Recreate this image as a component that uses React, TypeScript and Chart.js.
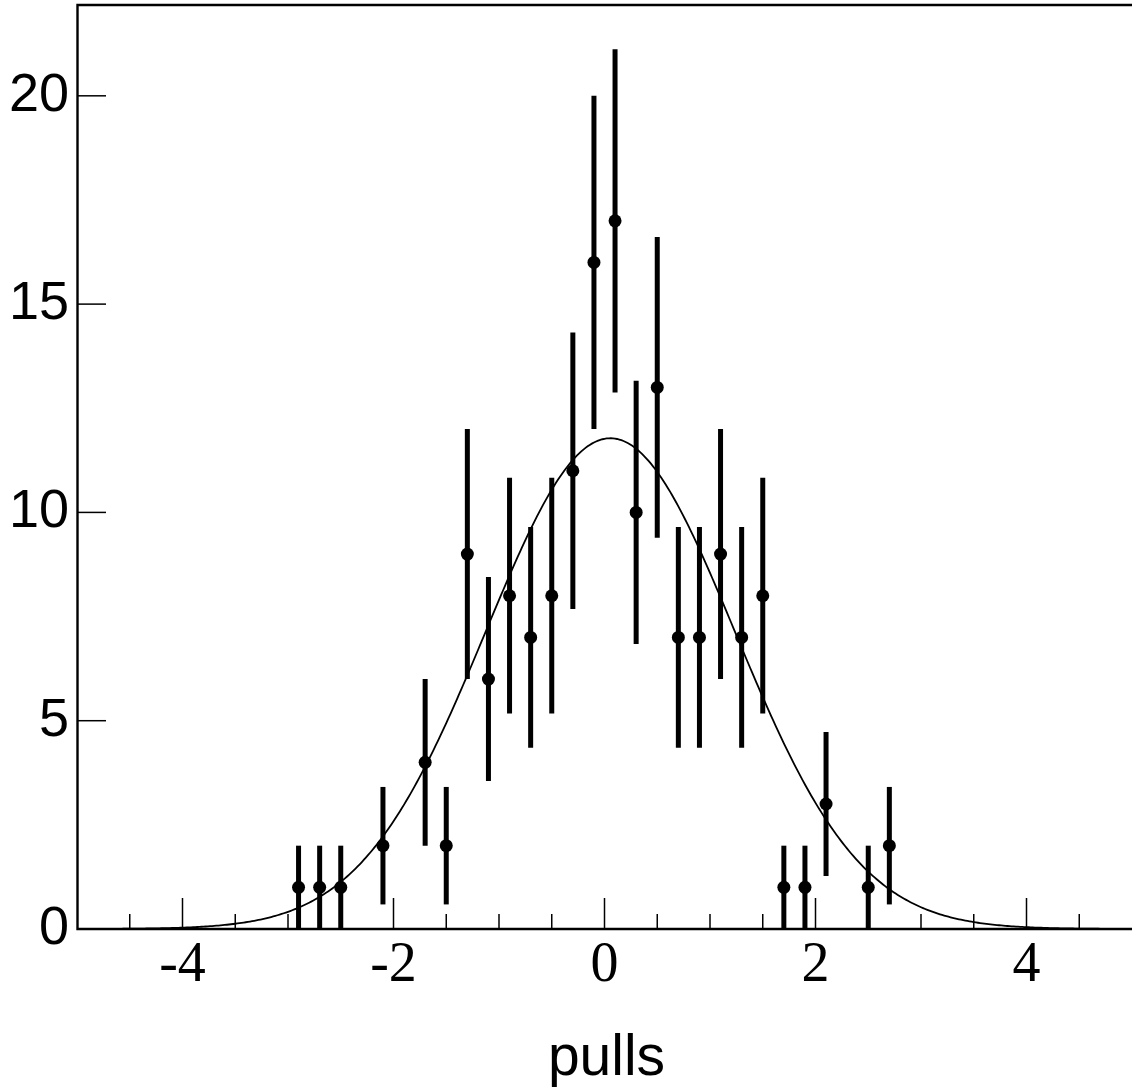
import React, { useEffect, useRef } from "react";
import { Chart, registerables } from "chart.js";

Chart.register(...registerables);

// ---- data ----
const binCenters = [
  -2.9, -2.7, -2.5, -2.1, -1.7, -1.5, -1.3, -1.1, -0.9, -0.7, -0.5, -0.3, -0.1,
  0.1, 0.3, 0.5, 0.7, 0.9, 1.1, 1.3, 1.5, 1.7, 1.9, 2.1, 2.5, 2.7,
];
const counts = [
  1, 1, 1, 2, 4, 2, 9, 6, 8, 7, 8, 11, 16, 17, 10, 13, 7, 7, 9, 7, 8, 1, 1, 3, 1, 2,
];
const errors = [
  1, 1, 1, 1.41, 2, 1.41, 3, 2.45, 2.83, 2.65, 2.83, 3.32, 4, 4.12, 3.16, 3.61,
  2.65, 2.65, 3, 2.65, 2.83, 1, 1, 1.73, 1, 1.41,
];

// Gaussian fit parameters
const fitAmplitude = 11.78;
const fitMean = 0.055;
const fitSigma = 1.18;

const xMajorTicks = [-4, -2, 0, 2, 4];
const xMinorTicks = [-4.5, -3.5, -3, -2.5, -1.5, -1, -0.5, 0.5, 1, 1.5, 2.5, 3, 3.5, 4.5];
const yMajorTicks = [0, 5, 10, 15, 20];
const xTickLabels = ["-4", "-2", "0", "2", "4"];
const yTickLabels = ["0", "5", "10", "15", "20"];
const xMin = -5;
const xMax = 5;
const yMin = 0;
const yMax = 22.18;
const xTitle = "pulls";

function fitCurve() {
  const pts: { x: number; y: number }[] = [];
  const n = 500;
  for (let i = 0; i <= n; i++) {
    const xv = xMin + ((xMax - xMin) * i) / n;
    const z = (xv - fitMean) / fitSigma;
    pts.push({ x: xv, y: fitAmplitude * Math.exp(-0.5 * z * z) });
  }
  return pts;
}

const rootStyle = {
  id: "rootStyle",
  beforeDatasetsDraw(chart: any) {
    const { ctx, scales } = chart;
    const x = scales.x;
    const y = scales.y;
    ctx.save();
    ctx.strokeStyle = "#000";
    ctx.lineWidth = 5;
    ctx.lineCap = "butt";
    binCenters.forEach((c, i) => {
      const px = x.getPixelForValue(c);
      ctx.beginPath();
      ctx.moveTo(px, y.getPixelForValue(Math.max(yMin, counts[i] - errors[i])));
      ctx.lineTo(px, y.getPixelForValue(counts[i] + errors[i]));
      ctx.stroke();
    });
    ctx.restore();
  },
  afterDraw(chart: any) {
    const { ctx, scales, chartArea } = chart;
    const x = scales.x;
    const y = scales.y;
    const { left, right, top, bottom } = chartArea;
    ctx.save();
    ctx.strokeStyle = "#000";
    ctx.fillStyle = "#000";
    // frame
    ctx.lineWidth = 2.4;
    ctx.beginPath();
    ctx.moveTo(right, top);
    ctx.lineTo(left + 0.5, top);
    ctx.lineTo(left + 0.5, bottom);
    ctx.lineTo(right, bottom);
    ctx.stroke();

    // y ticks (inward)
    ctx.lineWidth = 1.5;
    yMajorTicks.forEach((v) => {
      const py = y.getPixelForValue(v);
      ctx.beginPath();
      ctx.moveTo(left, py);
      ctx.lineTo(left + 29, py);
      ctx.stroke();
    });
    // x ticks (inward)
    xMajorTicks.forEach((v) => {
      const px = x.getPixelForValue(v);
      ctx.beginPath();
      ctx.moveTo(px, bottom);
      ctx.lineTo(px, bottom - 31);
      ctx.stroke();
    });
    xMinorTicks.forEach((v) => {
      const px = x.getPixelForValue(v);
      ctx.beginPath();
      ctx.moveTo(px, bottom);
      ctx.lineTo(px, bottom - 15);
      ctx.stroke();
    });

    // y labels
    ctx.font = '54px "Liberation Sans", Arial, sans-serif';
    ctx.textAlign = "right";
    ctx.textBaseline = "alphabetic";
    yMajorTicks.forEach((v, i) => {
      ctx.fillText(yTickLabels[i], left - 8, y.getPixelForValue(v) + 15);
    });

    // x labels
    ctx.font = '56px "Liberation Serif", "Times New Roman", serif';
    ctx.textAlign = "center";
    xMajorTicks.forEach((v, i) => {
      ctx.fillText(xTickLabels[i], x.getPixelForValue(v), bottom + 52);
    });

    // x title
    ctx.font = '57px "Liberation Sans", Arial, sans-serif';
    ctx.textAlign = "center";
    ctx.fillText(xTitle, (x.getPixelForValue(xMin) + x.getPixelForValue(xMax)) / 2 + 2, bottom + 146);
    ctx.restore();
  },
};

export default function App() {
  const canvasRef = useRef<HTMLCanvasElement | null>(null);

  useEffect(() => {
    const canvas = canvasRef.current;
    if (!canvas) return;
    const chart = new Chart(canvas, {
      type: "scatter",
      data: {
        datasets: [
          {
            label: "fit",
            data: fitCurve(),
            showLine: true,
            borderColor: "#000",
            borderWidth: 1.8,
            pointRadius: 0,
            tension: 0,
            fill: false,
          } as any,
          {
            label: "data",
            data: binCenters.map((c, i) => ({ x: c, y: counts[i] })),
            showLine: false,
            pointRadius: 6.5,
            pointHoverRadius: 6.5,
            pointBorderWidth: 0,
            pointBackgroundColor: "#000",
            backgroundColor: "#000",
            borderColor: "#000",
          } as any,
        ],
      },
      options: {
        animation: false,
        responsive: false,
        devicePixelRatio: 1,
        events: [],
        layout: { autoPadding: false, padding: { left: 77, right: 0, top: 5, bottom: 162 } },
        plugins: {
          legend: { display: false },
          tooltip: { enabled: false },
          title: { display: false },
        },
        scales: {
          x: { type: "linear", min: xMin, max: xMax, display: false },
          y: { type: "linear", min: yMin, max: yMax, display: false },
        },
      } as any,
      plugins: [rootStyle as any],
    });
    return () => chart.destroy();
  }, []);

  return (
    <div style={{ position: "absolute", left: 0, top: 0, width: 1132, height: 1091, background: "#fff" }}>
      <canvas ref={canvasRef} width={1132} height={1091} style={{ display: "block" }} />
    </div>
  );
}
